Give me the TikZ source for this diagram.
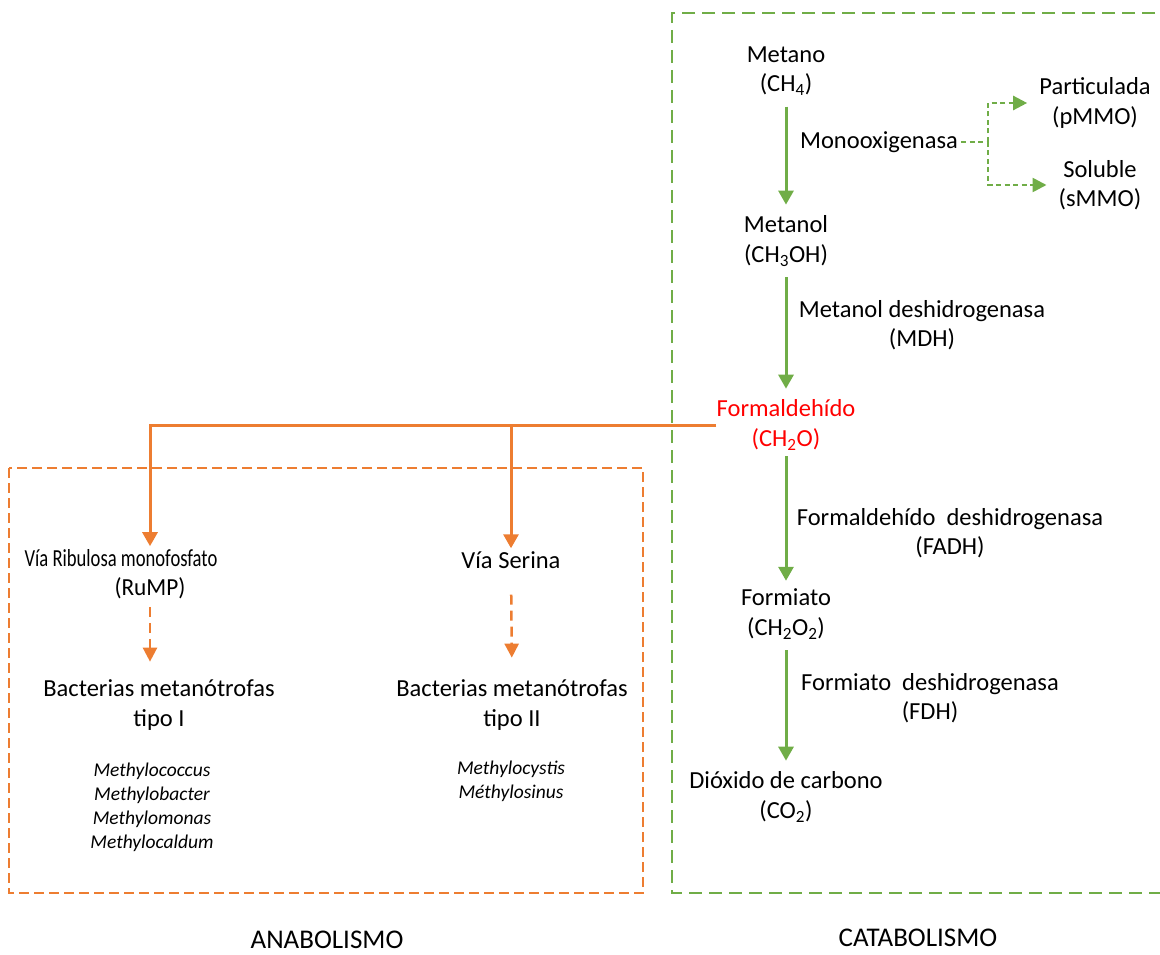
\documentclass[tikz,border=0pt]{standalone}
\usepackage{fontspec}
\setmainfont{Carlito}
\usetikzlibrary{arrows.meta}
\definecolor{mgreen}{HTML}{70AD47}
\definecolor{morange}{HTML}{ED7D31}
\tikzset{
  txt/.style={inner sep=0pt, align=center, font=\fontsize{24.5}{29.5}\selectfont},
  title/.style={inner sep=0pt, font=\fontsize{27}{32}\selectfont},
  spec/.style={inner sep=0pt, align=center, font=\fontsize{19.5}{24}\selectfont\itshape},
  garrow/.style={draw=mgreen, line width=3pt, -{Triangle[width=15pt,length=14pt]}},
  gdot/.style={draw=mgreen, line width=2.5pt, dash pattern=on 5pt off 3.5pt},
  gdotarrow/.style={gdot, -{Triangle[width=14pt,length=14pt]}},
  oline/.style={draw=morange, line width=3pt},
  oarrow/.style={oline, -{Triangle[width=15pt,length=14pt]}},
  odasharrow/.style={draw=morange, line width=2.5pt, dash pattern=on 10pt off 6pt, -{Triangle[width=14pt,length=14pt]}},
  gbox/.style={draw=mgreen, line width=1.6pt, dash pattern=on 13pt off 7pt},
  obox/.style={draw=morange, line width=1.6pt, dash pattern=on 10pt off 5pt},
}
\begin{document}
\begin{tikzpicture}[x=1pt,y=-1pt]
\useasboundingbox (0,0) rectangle (1160,955);
% boxes
\draw[gbox] (1175,13) -- (672,13) -- (672,893) -- (1175,893);
\draw[obox] (9,468) rectangle (643,893);
% catabolism chain
\node[txt] (metano) at (786,71) {Metano\\(CH\textsubscript{4})};
\node[txt] (metanol) at (786,241) {Metanol\\(CH\textsubscript{3}OH)};
\node[txt, text=red] (formal) at (786,425) {Formaldehído\\(CH\textsubscript{2}O)};
\node[txt] (formiato) at (786,614) {Formiato\\(CH\textsubscript{2}O\textsubscript{2})};
\node[txt] (co2) at (786,797) {Dióxido de carbono\\(CO\textsubscript{2})};
\node[txt] (mono) at (879,142) {Monooxigenasa};
\node[txt] (part) at (1095,103) {Particulada\\(pMMO)};
\node[txt] (sol) at (1100,185) {Soluble\\(sMMO)};
\node[txt] (mdh) at (922,325) {Metanol deshidrogenasa\\(MDH)};
\node[txt] (fadh) at (950,533) {Formaldehído\ \ deshidrogenasa\\(FADH)};
\node[txt] (fdh) at (930,698) {Formiato\ \ deshidrogenasa\\(FDH)};
\draw[garrow, shorten <=11pt, shorten >=11pt] (metano.south) -- (metanol.north);
\draw[garrow, shorten <=11pt, shorten >=11pt] (metanol.south) -- (formal.north);
\draw[garrow, shorten <=6pt, shorten >=8pt] (formal.south) -- (formiato.north);
\draw[garrow, shorten <=11pt, shorten >=11pt] (formiato.south) -- (co2.north);
\coordinate (j) at (988,142);
\draw[gdot, shorten <=3pt] (mono.east) -- (j);
\draw[gdotarrow, shorten >=12pt] (j) |- (part.west);
\draw[gdotarrow, shorten >=12pt] (j) |- (sol.west);
% anabolism
\node[txt, xscale=0.76] (rump1) at (121,558) {Vía Ribulosa monofosfato};
\node[txt, xscale=0.95] (rump) at (150,588) {(RuMP)};
\node[txt] (serina) at (511,560) {Vía Serina};
\node[txt] (bact1) at (159,705) {Bacterias metanótrofas\\tipo I};
\node[txt] (bact2) at (512,705) {Bacterias metanótrofas\\tipo II};
\node[spec] (sp1) at (152,807) {Methylococcus\\Methylobacter\\Methylomonas\\Methylocaldum};
\node[spec] (sp2) at (511,781) {Methylocystis\\Méthylosinus};
\coordinate (br) at (511,425);
\draw[oarrow, shorten >=3pt] (formal.west) -| (rump.north |- rump1.north);
\draw[oarrow, shorten >=3pt] (br) -- (serina.north);
\draw[odasharrow, shorten <=8pt, shorten >=18pt] (rump.south) -- (rump.south |- bact1.north);
\draw[odasharrow, shorten <=26pt, shorten >=22pt] (serina.south) -- (bact2.north);
% titles
\node[title] (ana) at (327,940) {ANABOLISMO};
\node[title] (cata) at (918,938) {CATABOLISMO};
\end{tikzpicture}
\end{document}
